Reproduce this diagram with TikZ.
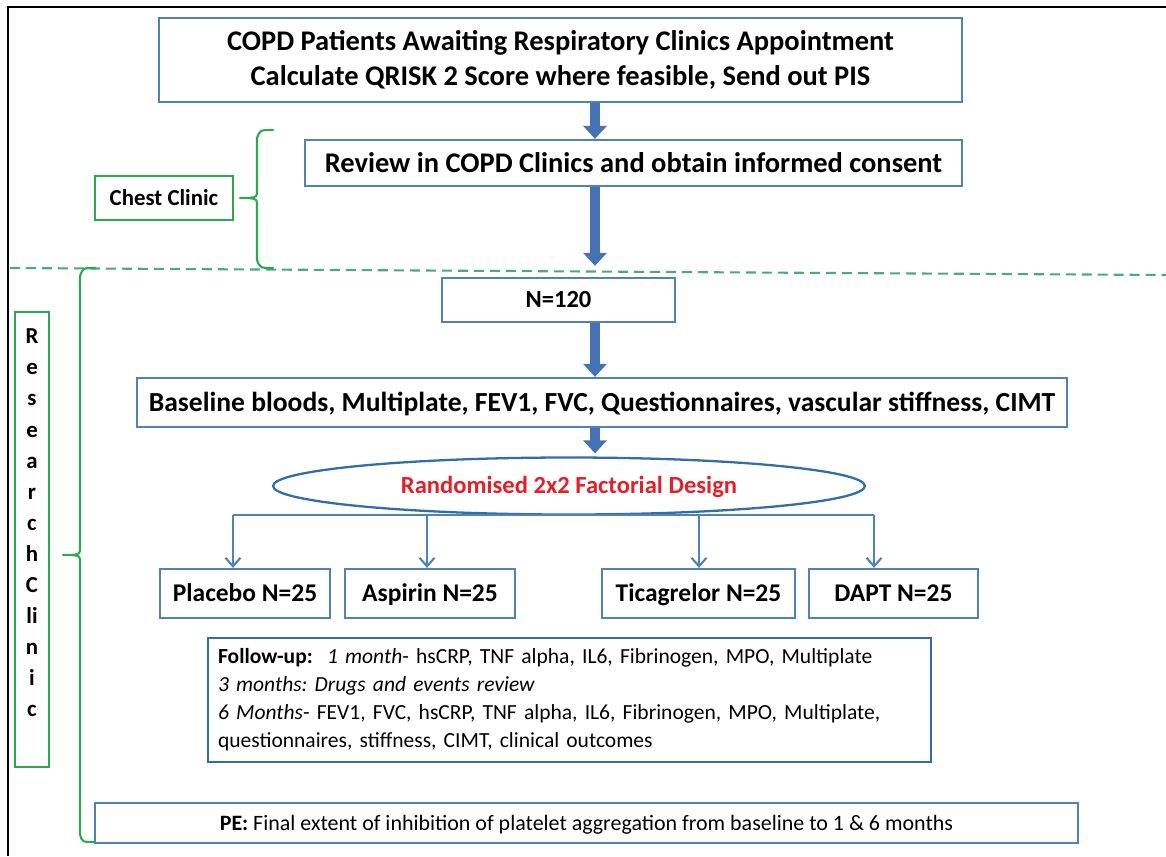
\documentclass[tikz,border=0pt]{standalone}
\usepackage{fontspec}
\setmainfont{Carlito}
\usetikzlibrary{arrows.meta,shapes.geometric}
\definecolor{boxblue}{RGB}{79,129,189}
\definecolor{fublue}{RGB}{46,110,170}
\definecolor{arrowblue}{RGB}{68,114,180}
\definecolor{clinicgreen}{RGB}{46,168,80}
\definecolor{dashgreen}{RGB}{70,172,120}
\definecolor{randred}{RGB}{230,30,40}
\frenchspacing
\tikzset{
  bluebox/.style={draw=boxblue,line width=1.3pt,fill=white,inner sep=0pt,font=\bfseries},
  greenbox/.style={draw=clinicgreen,line width=1.3pt,inner sep=0pt,font=\bfseries},
  oneline/.style={text height=#1,text depth=0pt},
  armbox/.style={bluebox,oneline=9.3pt,minimum height=0.98cm,font=\bfseries\fontsize{14.5}{18}\selectfont},
  bigarrow/.style={draw=arrowblue,line width=0.2cm,-{Triangle[width=0.46cm,length=0.26cm]}},
  thinarrow/.style={draw=boxblue,line width=1.2pt,-{Straight Barb[width=0.3cm,length=0.17cm]}},
  bracket/.style={draw=clinicgreen,line width=1.2pt,line cap=round}
}
\begin{document}
\begin{tikzpicture}[x=0.02cm,y=-0.02cm]
	\useasboundingbox (0,0) rectangle (1166,856);
	\draw[line width=1.7pt] (8,856) -- (8,7) -- (1166,7);
	\draw[dashgreen,line width=1.2pt,dash pattern=on 0.2cm off 0.12cm] (10,268) -- (1166,275);
	% boxes
	\node[bluebox,minimum width=16.06cm,minimum height=1.68cm,align=center,font=\bfseries\fontsize{16.2}{19.8}\selectfont] (top) at (560.5,60)
		{COPD Patients Awaiting Respiratory Clinics Appointment\\Calculate QRISK 2 Score where feasible, Send out PIS};
	\node[bluebox,oneline=10.4pt,minimum width=13.14cm,minimum height=0.92cm,font=\bfseries\fontsize{16.2}{19}\selectfont] (review) at (633.5,163)
		{Review in COPD Clinics and obtain informed consent};
	\node[greenbox,oneline=8.4pt,minimum width=2.76cm,minimum height=0.88cm,font=\bfseries\fontsize{13}{16}\selectfont] (chest) at (164,198) {Chest Clinic};
	\node[bluebox,oneline=9pt,minimum width=4.66cm,minimum height=0.88cm,font=\bfseries\fontsize{14}{17}\selectfont] (n120) at (558.5,300) {N=120};
	\node[bluebox,oneline=10.1pt,minimum width=18.6cm,minimum height=0.98cm,font=\bfseries\fontsize{15.7}{18}\selectfont] (base) at (602,402.5)
		{Baseline bloods, Multiplate, FEV1, FVC, Questionnaires, vascular stiffness, CIMT};
	\node[ellipse,draw=fublue,line width=1.3pt,minimum width=11.84cm,minimum height=1.14cm,inner sep=0pt,oneline=9pt,text=randred,font=\bfseries\fontsize{14}{17}\selectfont] (rand) at (569,486)
		{Randomised 2x2 Factorial Design};
	\node[armbox,minimum width=3.4cm] (placebo) at (245,593.5) {Placebo N=25};
	\node[armbox,minimum width=3.4cm] (aspirin) at (430,593.5) {Aspirin N=25};
	\node[armbox,minimum width=3.86cm] (tica) at (698.5,593.5) {Ticagrelor N=25};
	\node[armbox,minimum width=3.38cm] (dapt) at (893.5,593.5) {DAPT N=25};
	\node[draw=fublue,line width=1.6pt,minimum width=14.46cm,minimum height=2.48cm,inner xsep=0.2cm,inner ysep=0pt,text width=14.06cm,align=left,font=\fontsize{12.25}{15.9}\selectfont] (follow) at (569.5,700)
		{\textbf{Follow-up:}\ \ \textit{1 month}- hsCRP, TNF alpha, IL6, Fibrinogen, MPO, Multiplate\\
		\textit{3 months: Drugs and events review}\\
		\textit{6 Months}- FEV1, FVC, hsCRP, TNF alpha, IL6, Fibrinogen, MPO, Multiplate,\\
		questionnaires, stiffness, CIMT, clinical outcomes};
	\node[draw=boxblue,line width=1.3pt,oneline=8pt,minimum width=19.66cm,minimum height=0.8cm,inner sep=0pt,font=\fontsize{12.5}{15}\selectfont] (pe) at (586.5,823)
		{\textbf{PE:} Final extent of inhibition of platelet aggregation from baseline to 1 \& 6 months};
	\node[greenbox,minimum width=0.68cm,minimum height=9.1cm] (resbox) at (32,539.5) {};
	\node[align=center,inner sep=0pt,font=\bfseries\fontsize{13}{17.7}\selectfont] (restext) at (32,523)
		{R\\e\\s\\e\\a\\r\\c\\h\\C\\li\\n\\i\\c};
	% thick arrows down the middle
	\coordinate (spine) at (595,0);
	\draw[bigarrow] (top.south -| spine) -- (review.north -| spine);
	\draw[bigarrow,shorten >=0.22cm] (review.south -| spine) -- (n120.north -| spine);
	\draw[bigarrow] (n120.south -| spine) -- (base.north -| spine);
	\draw[bigarrow,shorten >=0.06cm] (base.south -| spine) -- (rand.north -| spine);
	% branches to the four arms
	\coordinate (b1) at (233,515);
	\coordinate (b2) at (427,515);
	\coordinate (b3) at (699,515);
	\coordinate (b4) at (874,515);
	\draw[boxblue,line width=1.2pt] (b1) -- (b4);
	\draw[thinarrow] (b1) -- (b1 |- placebo.north);
	\draw[thinarrow] (b2) -- (b2 |- aspirin.north);
	\draw[thinarrow] (b3) -- (b3 |- tica.north);
	\draw[thinarrow] (b4) -- (b4 |- dapt.north);
	% braces
	\draw[bracket] (273,130) .. controls (260,130) .. (257,138) -- (257,190) .. controls (257,197) .. (248,198) -- (240,198);
	\draw[bracket] (248,198) .. controls (257,199) .. (257,206) -- (257,260) .. controls (260,268) .. (273,268);
	\draw[bracket] (95,268) .. controls (83,268) .. (80,276) -- (80,547) .. controls (80,554) .. (72,555) -- (63,555);
	\draw[bracket] (72,555) .. controls (80,556) .. (80,563) -- (80,834) .. controls (82,842) .. (95,842);
\end{tikzpicture}
\end{document}
